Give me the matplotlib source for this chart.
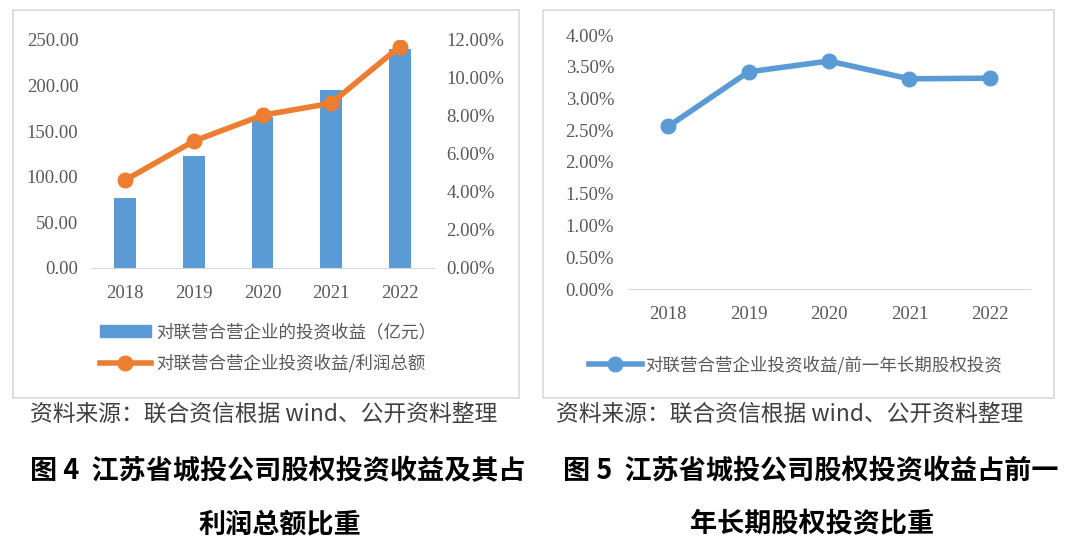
import matplotlib
matplotlib.use('Agg')
import matplotlib.pyplot as plt
from matplotlib.patches import Rectangle
from matplotlib.lines import Line2D

years = ['2018', '2019', '2020', '2021', '2022']
income = [77, 123, 166, 195, 240]               # 对联营合营企业的投资收益（亿元）
income_ratio = [4.63, 6.68, 8.04, 8.67, 11.65]  # 投资收益/利润总额 (%)
lt_ratio = [2.56, 3.42, 3.59, 3.31, 3.32]       # 投资收益/前一年长期股权投资 (%)

left_ticks = [0, 50, 100, 150, 200, 250]
right_ticks = [0, 2, 4, 6, 8, 10, 12]
fig5_ticks = [0, 0.5, 1, 1.5, 2, 2.5, 3, 3.5, 4]

BLUE = '#5B9BD5'
ORANGE = '#ED7D31'
GRAY = '#595959'
CJK = ['Noto Sans CJK SC', 'DejaVu Sans']
SERIF = 'Liberation Serif'

W, H = 1080, 542
fig = plt.figure(figsize=(W / 100, H / 100), dpi=100)
fig.patch.set_facecolor('white')


def px_axes(x0, y_top, x1, y_bot):
    return fig.add_axes([x0 / W, 1 - y_bot / H, (x1 - x0) / W, (y_bot - y_top) / H])


def style(ax):
    for s in ax.spines.values():
        s.set_visible(False)
    ax.spines['bottom'].set_visible(True)
    ax.spines['bottom'].set_color('#d9d9d9')
    ax.tick_params(length=0, labelcolor=GRAY, labelsize=13.5)
    for lab in ax.get_xticklabels() + ax.get_yticklabels():
        lab.set_fontfamily(SERIF)


# panel frames
fig.patches.append(Rectangle((13 / W, 1 - 398 / H), 506 / W, 388 / H, transform=fig.transFigure,
                             fill=False, edgecolor='#d9d9d9', linewidth=1.2))
fig.patches.append(Rectangle((543 / W, 1 - 398 / H), 511 / W, 388 / H, transform=fig.transFigure,
                             fill=False, edgecolor='#d9d9d9', linewidth=1.2))

# Figure 4: bars + ratio line
x = list(range(len(years)))
ax1 = px_axes(91, 40, 434, 268)
ax1.bar(x, income, width=0.32, color=BLUE)
ax1.set_xlim(-0.5, 4.5)
ax1.set_ylim(0, 250)
ax1.set_yticks(left_ticks)
ax1.set_yticklabels([f'{v:.2f}' for v in left_ticks])
ax1.set_xticks(x)
ax1.set_xticklabels(years)
ax1.tick_params(axis='y', pad=9)
ax1.tick_params(axis='x', pad=12)
ax1.set_facecolor('none')

ax2 = ax1.twinx()
ax2.plot(x, income_ratio, color=ORANGE, linewidth=4, marker='o', markersize=10.5)
ax2.set_ylim(0, 12)
ax2.set_yticks(right_ticks)
ax2.set_yticklabels([f'{v:.2f}%' for v in right_ticks])
ax2.tick_params(axis='y', pad=9)
style(ax1)
style(ax2)
ax2.spines['bottom'].set_visible(False)

h1 = Rectangle((0, 0), 1, 1, color=BLUE)
h2 = Line2D([], [], color=ORANGE, linewidth=4, marker='o', markersize=10.5)
leg = fig.legend([h1, h2], ['对联营合营企业的投资收益（亿元）', '对联营合营企业投资收益/利润总额'],
                 loc='upper left', bbox_to_anchor=(100 / W, 1 - 323 / H), frameon=False,
                 prop={'family': CJK, 'size': 12.6}, handlelength=2.9, handletextpad=0.3,
                 labelspacing=0.75, borderaxespad=0, borderpad=0)
for t in leg.get_texts():
    t.set_color(GRAY)

# Figure 5: single line
ax3 = px_axes(628, 35, 1030, 289)
ax3.plot(x, lt_ratio, color=BLUE, linewidth=4, marker='o', markersize=10.5)
ax3.set_xlim(-0.5, 4.5)
ax3.set_ylim(0, 4)
ax3.set_yticks(fig5_ticks)
ax3.set_yticklabels([f'{v:.2f}%' for v in fig5_ticks])
ax3.set_xticks(x)
ax3.set_xticklabels(years)
ax3.tick_params(axis='y', pad=10)
ax3.tick_params(axis='x', pad=12)
style(ax3)

h3 = Line2D([], [], color=BLUE, linewidth=4, marker='o', markersize=10.5)
leg2 = fig.legend([h3], ['对联营合营企业投资收益/前一年长期股权投资'],
                  loc='center left', bbox_to_anchor=(589 / W, 1 - 365 / H), frameon=False,
                  prop={'family': CJK, 'size': 12.6}, handlelength=3.0, handletextpad=0.2,
                  borderaxespad=0, borderpad=0)
for t in leg2.get_texts():
    t.set_color(GRAY)

# source notes and captions
src = '资料来源：联合资信根据 wind、公开资料整理'
fig.text(30 / W, 1 - 414 / H, src, family=CJK, fontsize=16.4, color='#404040', va='center')
fig.text(556 / W, 1 - 414 / H, src, family=CJK, fontsize=16.4, color='#404040', va='center')

fig.text(30 / W, 1 - 471 / H, '图 4  江苏省城投公司股权投资收益及其占', family=CJK, fontsize=19.5,
         fontweight='bold', va='center', ha='left')
fig.text(280 / W, 1 - 524 / H, '利润总额比重', family=CJK, fontsize=19.5,
         fontweight='bold', va='center', ha='center')
fig.text(563 / W, 1 - 471 / H, '图 5  江苏省城投公司股权投资收益占前一', family=CJK, fontsize=19.5,
         fontweight='bold', va='center', ha='left')
fig.text(812 / W, 1 - 524 / H, '年长期股权投资比重', family=CJK, fontsize=19.5,
         fontweight='bold', va='center', ha='center')

fig.savefig('out.png', dpi=100)
